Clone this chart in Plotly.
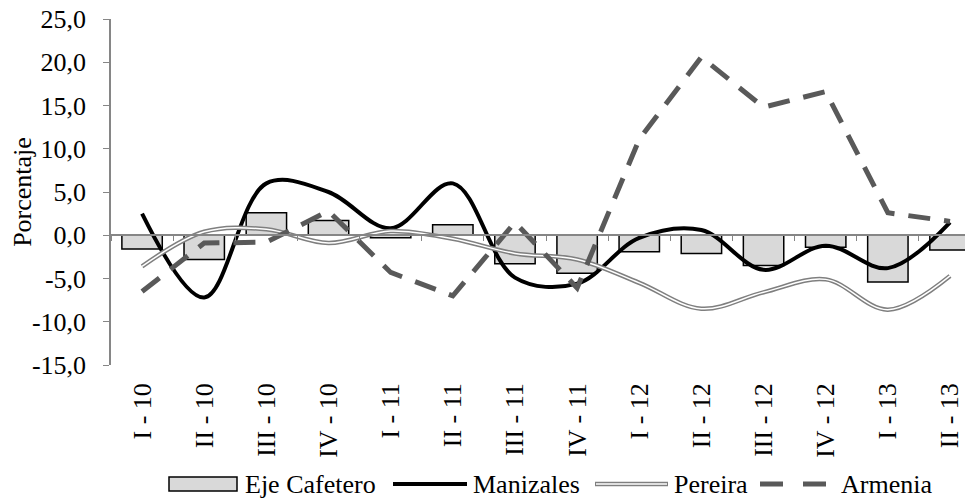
import plotly.graph_objects as go

# Datos (variación porcentual trimestral)
trimestres = ['I - 10', 'II - 10', 'III - 10', 'IV - 10', 'I - 11', 'II - 11', 'III - 11',
              'IV - 11', 'I - 12', 'II - 12', 'III - 12', 'IV - 12', 'I - 13', 'II - 13']
eje_cafetero = [-1.6, -2.8, 2.6, 1.7, -0.3, 1.2, -3.3, -4.4, -1.9, -2.1, -3.5, -1.4, -5.4, -1.7]
manizales = [2.5, -7.2, 6.0, 5.0, 0.8, 6.0, -4.9, -5.6, -0.3, 0.6, -4.0, -1.2, -3.8, 1.5]
pereira = [-3.6, 0.4, 0.7, -0.9, 0.5, -0.4, -2.1, -2.8, -5.5, -8.5, -6.6, -5.1, -8.6, -4.7]
armenia = [-6.5, -0.9, -0.8, 2.8, -4.3, -7.0, 1.5, -6.1, 11.1, 20.6, 14.8, 16.6, 2.6, 1.6]

y_ticks = [-15, -10, -5, 0, 5, 10, 15, 20, 25]
y_etiquetas = ['-15,0', '-10,0', '-5,0', '0,0', '5,0', '10,0', '15,0', '20,0', '25,0']

fuente = 'Liberation Serif'
tam = 26

# La página deja 8 px de margen, así que la figura es 8 px menor y todo se mide en la pantalla
desp = 8
ancho_fig, alto_fig = 973 - desp, 501 - desp
izq, arriba, ancho, alto = 111, 19, 862, 346   # área del gráfico en la pantalla


def px(x):
    return (x - izq) / ancho


def py(y):
    return (arriba + alto - y) / alto


fig = go.Figure()

# Barras Eje Cafetero
fig.add_trace(go.Bar(
    x=trimestres, y=eje_cafetero, name='Eje Cafetero',
    marker=dict(color='#d9d9d9', line=dict(color='black', width=1.5)),
    width=0.65,
))

# Manizales (línea suavizada negra)
fig.add_trace(go.Scatter(
    x=trimestres, y=manizales, name='Manizales', mode='lines',
    line=dict(color='black', width=4, shape='spline', smoothing=1.0),
))

# Pereira (línea doble: gris ancha + blanca encima)
fig.add_trace(go.Scatter(
    x=trimestres, y=pereira, name='Pereira', mode='lines',
    line=dict(color='#7f7f7f', width=4.5, shape='spline', smoothing=1.0),
))
fig.add_trace(go.Scatter(
    x=trimestres, y=pereira, name='Pereira', mode='lines', hoverinfo='skip',
    line=dict(color='white', width=1.5, shape='spline', smoothing=1.0),
))

# Armenia (discontinua)
fig.add_trace(go.Scatter(
    x=trimestres, y=armenia, name='Armenia', mode='lines',
    line=dict(color='#595959', width=5, dash='22px,14px'),
))

# Eje auxiliar para la línea del cero con marcas entre categorías
fig.add_trace(go.Scatter(x=trimestres, y=[None] * len(trimestres), xaxis='x2',
                         hoverinfo='skip'))

rango_x = [-0.5, 13.37]

# Leyenda manual
ley_y = 484
formas = [
    dict(type='rect', xref='paper', yref='paper', x0=px(169), x1=px(237), y0=py(491), y1=py(477),
         fillcolor='#d9d9d9', line=dict(color='black', width=1.5)),
    dict(type='line', xref='paper', yref='paper', x0=px(393), x1=px(467), y0=py(ley_y), y1=py(ley_y),
         line=dict(color='black', width=4)),
    dict(type='line', xref='paper', yref='paper', x0=px(595), x1=px(668), y0=py(ley_y), y1=py(ley_y),
         line=dict(color='#7f7f7f', width=4.5)),
    dict(type='line', xref='paper', yref='paper', x0=px(596), x1=px(667), y0=py(ley_y), y1=py(ley_y),
         line=dict(color='white', width=1.5)),
    dict(type='line', xref='paper', yref='paper', x0=px(760), x1=px(827), y0=py(ley_y), y1=py(ley_y),
         line=dict(color='#595959', width=5, dash='23px,20px')),
]
textos = [('Eje Cafetero', 243), ('Manizales', 471), ('Pereira', 672), ('Armenia', 839)]
anotaciones = [
    dict(text=t, xref='paper', yref='paper', x=px(x), y=py(484), xanchor='left', yanchor='middle',
         showarrow=False, font=dict(family=fuente, size=tam, color='black'))
    for t, x in textos
]

fig.update_layout(
    width=ancho_fig, height=alto_fig,
    margin=dict(l=izq - desp, r=0, t=arriba - desp, b=alto_fig - (arriba - desp) - alto,
                autoexpand=False),
    plot_bgcolor='white', paper_bgcolor='white',
    showlegend=False,
    font=dict(family=fuente, size=tam, color='black'),
    shapes=formas,
    annotations=anotaciones,
    xaxis=dict(
        range=rango_x, showline=False, showgrid=False, zeroline=False,
        ticks='', tickangle=-90, tickfont=dict(size=tam), ticklabelstandoff=12,
        automargin=False, ticklabeloverflow='allow',
    ),
    xaxis2=dict(
        overlaying='x', anchor='free', position=0.375, range=rango_x,
        showline=True, linecolor='#868686', linewidth=1.5,
        ticks='outside', ticklen=5, tickcolor='#868686', tickson='boundaries',
        showticklabels=False, showgrid=False, zeroline=False,
        type='category', categoryarray=trimestres,
    ),
    yaxis=dict(
        range=[-15, 25], tickvals=y_ticks, ticktext=y_etiquetas,
        showline=True, linecolor='#868686', linewidth=1.5,
        ticks='outside', ticklen=6, tickcolor='#868686',
        showgrid=False, zeroline=False, automargin=False,
        ticklabelstandoff=12, ticklabeloverflow='allow',
        title=dict(text='Porcentaje', font=dict(size=tam), standoff=4),
        tickfont=dict(size=tam),
    ),
)

fig.write_html('out.html')
